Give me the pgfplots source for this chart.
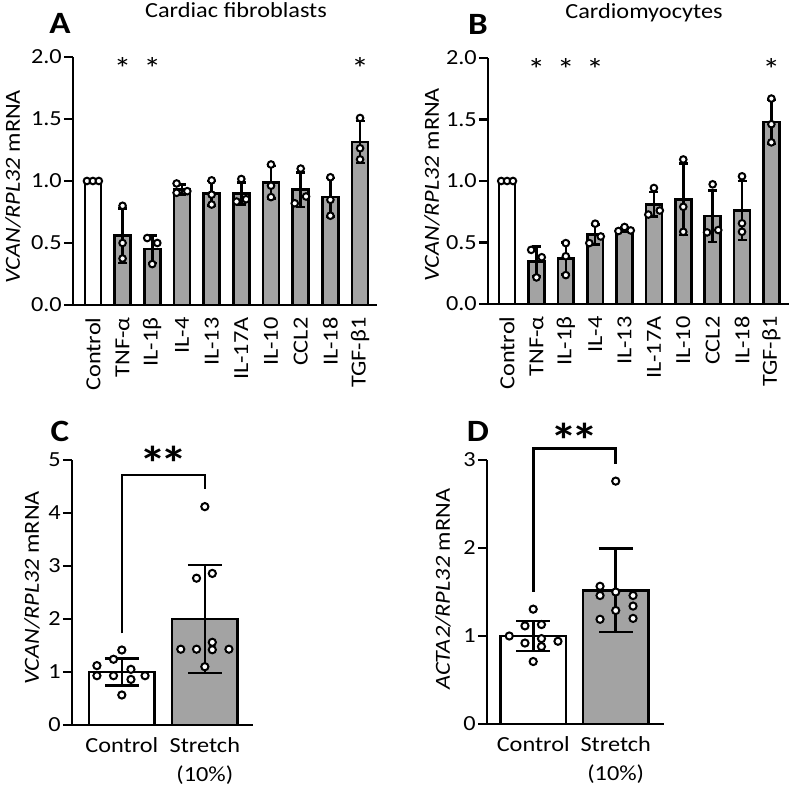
\documentclass[border=0pt]{standalone}
\usepackage{fontspec}
\setmainfont{Carlito}[FakeStretch=1.13]
\usepackage{pgfplots}
\pgfplotsset{compat=1.18}
\definecolor{bargray}{gray}{0.64}
\newcommand\fs{\fontsize{21.5pt}{29pt}\selectfont}
\pgfplotsset{
 panel/.style={
  scale only axis, axis lines=left, axis line style={-, line width=2.8pt, black},
  clip=false, tick align=outside, major tick length=9pt,
  ytick style={black, line width=2.8pt}, xtick style={draw=none},
  tick label style={font=\fs}, label style={font=\fs},
  yticklabel style={inner xsep=2pt},
  every axis y label/.style={rotate=90, anchor=center, font=\fs},
 },
 pts/.style={only marks, mark=*, mark size=#1, mark options={fill=white, draw=black, line width=2pt}},
 errp/.style={draw=none, forget plot, error bars/.cd, y dir=both, y explicit,
   error bar style={black, line width=2.6pt},
   error mark options={rotate=90, black, line width=2.6pt, mark size=#1}},
}
\tikzset{
 sstar/.style={anchor=base, font=\fontsize{31pt}{33pt}\selectfont},
 dstar/.style={anchor=base, font=\fontsize{48pt}{50pt}\selectfont\bfseries},
}
\begin{document}
\begin{tikzpicture}[font=\fs]
\path[use as bounding box] (0,0) rectangle (789pt,786pt);
% ---------- A ----------
\begin{axis}[panel, at={(73pt,481pt)}, anchor=south west, width=304pt, height=248pt,
  xmin=-0.67, xmax=9.57, ymin=0, ymax=2,
  ytick={0,0.5,1,1.5,2}, yticklabels={0.0,0.5,1.0,1.5,2.0},
  xtick={0,...,9}, xticklabels={Control,TNF-α,IL-1β,IL-4,IL-13,IL-17A,IL-10,CCL2,IL-18,TGF-β1},
  xticklabel style={rotate=90, anchor=east},
  ylabel={\textit{VCAN/RPL32} mRNA}, ylabel style={at={(axis description cs:-0.197,0.476)}}]
\addplot[ybar, bar width=0.54, bar shift=0pt, fill=white, draw=black, line width=2.6pt] coordinates {(0,1.0)};
\addplot[ybar, bar width=0.54, bar shift=0pt, fill=bargray, draw=black, line width=2.6pt] coordinates {
 (1,0.56) (2,0.45) (3,0.93) (4,0.90) (5,0.90) (6,0.99) (7,0.93) (8,0.87) (9,1.315)};
\addplot[errp=4.5pt] coordinates {
 (1,0.56) +- (0,0.22) (2,0.45) +- (0,0.11) (3,0.93) +- (0,0.04) (4,0.90) +- (0,0.10)
 (5,0.90) +- (0,0.09) (6,0.99) +- (0,0.13) (7,0.93) +- (0,0.14) (8,0.87) +- (0,0.155) (9,1.315) +- (0,0.17)};
\addplot[pts=3.3pt] coordinates {
 (-0.2,1) (0,1) (0.2,1)
 (1,0.80) (1,0.50) (1,0.375)
 (1.83,0.54) (2.17,0.50) (2,0.33)
 (2.82,0.98) (2.82,0.905) (3.18,0.918)
 (4,1.005) (4,0.89) (4,0.81)
 (5,1.016) (4.84,0.834) (5.16,0.853)
 (6,1.133) (6,0.962) (6,0.870)
 (7,1.10) (6.8,0.82) (7.18,0.875)
 (8,1.03) (8,0.848) (8,0.72)
 (9,1.508) (9,1.264) (9,1.174)};
\node[sstar] at (axis cs:1,1.82) {*};
\node[sstar] at (axis cs:2,1.82) {*};
\node[sstar] at (axis cs:9,1.82) {*};
\end{axis}
% ---------- B ----------
\begin{axis}[panel, at={(488pt,482pt)}, anchor=south west, width=301pt, height=246pt,
  xmin=-0.65, xmax=9.6, ymin=0, ymax=2,
  ytick={0,0.5,1,1.5,2}, yticklabels={0.0,0.5,1.0,1.5,2.0},
  xtick={0,...,9}, xticklabels={Control,TNF-α,IL-1β,IL-4,IL-13,IL-17A,IL-10,CCL2,IL-18,TGF-β1},
  xticklabel style={rotate=90, anchor=east},
  ylabel={\textit{VCAN/RPL32} mRNA}, ylabel style={at={(axis description cs:-0.186,0.484)}}]
\addplot[ybar, bar width=0.54, bar shift=0pt, fill=white, draw=black, line width=2.6pt] coordinates {(0,1.0)};
\addplot[ybar, bar width=0.54, bar shift=0pt, fill=bargray, draw=black, line width=2.6pt] coordinates {
 (1,0.345) (2,0.37) (3,0.565) (4,0.605) (5,0.81) (6,0.85) (7,0.715) (8,0.76) (9,1.48)};
\addplot[errp=4.5pt] coordinates {
 (1,0.345) +- (0,0.12) (2,0.37) +- (0,0.13) (3,0.565) +- (0,0.08) (4,0.605) +- (0,0.02)
 (5,0.81) +- (0,0.10) (6,0.85) +- (0,0.29) (7,0.715) +- (0,0.21) (8,0.76) +- (0,0.24) (9,1.48) +- (0,0.18)};
\addplot[pts=3.3pt] coordinates {
 (-0.2,1) (0,1) (0.2,1)
 (0.82,0.44) (1.18,0.38) (1,0.216)
 (2,0.495) (2,0.388) (2,0.235)
 (3,0.653) (2.8,0.495) (3.19,0.549)
 (3.79,0.593) (4,0.626) (4.21,0.598)
 (5,0.943) (4.81,0.727) (5.2,0.76)
 (6,1.175) (6,0.79) (6,0.587)
 (7,0.973) (6.81,0.582) (7.19,0.601)
 (8,1.038) (8,0.656) (8,0.587)
 (9,1.67) (9,1.462) (9,1.314)};
\node[sstar] at (axis cs:1,1.82) {*};
\node[sstar] at (axis cs:2,1.82) {*};
\node[sstar] at (axis cs:3,1.82) {*};
\node[sstar] at (axis cs:9,1.82) {*};
\end{axis}
% ---------- C ----------
\begin{axis}[panel, at={(72pt,61pt)}, anchor=south west, width=181pt, height=265pt,
  xmin=-0.6, xmax=1.58, ymin=0, ymax=5,
  ytick={0,...,5}, yticklabels={0,1,2,3,4,5},
  xtick={0,1}, xticklabels={Control,{Stretch\\(10\%)}},
  xticklabel style={align=center, anchor=north},
  ylabel={\textit{VCAN/RPL32} mRNA}, ylabel style={at={(axis description cs:-0.221,0.517)}}]
\addplot[ybar, bar width=0.79, bar shift=0pt, fill=white, draw=black, line width=2.6pt] coordinates {(0,1.0)};
\addplot[ybar, bar width=0.79, bar shift=0pt, fill=bargray, draw=black, line width=2.6pt] coordinates {(1,2.0)};
\addplot[errp=17pt] coordinates {(0,1.0) +- (0,0.25) (1,2.0) +- (0,1.02)};
\addplot[pts=3.6pt] coordinates {
 (-0.30,1.12) (-0.30,0.93) (-0.10,1.24) (-0.10,0.93) (0,1.415) (0,0.566) (0.11,1.05) (0.11,0.86) (0.28,0.93)};
\addplot[pts=3.6pt] coordinates {
 (1,4.12) (0.90,2.77) (1.09,2.86) (0.71,1.43) (0.90,1.43) (1.09,1.56) (1.09,1.42) (1.29,1.43) (1,1.10)};
\addplot[black, line width=2.6pt, forget plot] coordinates {(0,1.73) (0,4.72) (1,4.72) (1,4.45)};
\node[dstar] at (axis cs:0.5,4.62) {*\kern-6pt*};
\end{axis}
% ---------- D ----------
\begin{axis}[panel, at={(487pt,62pt)}, anchor=south west, width=177.4pt, height=264pt,
  xmin=-0.56, xmax=1.59, ymin=0, ymax=3,
  ytick={0,...,3}, yticklabels={0,1,2,3},
  xtick={0,1}, xticklabels={Control,{Stretch\\(10\%)}},
  xticklabel style={align=center, anchor=north},
  ylabel={\textit{ACTA2/RPL32} mRNA}, ylabel style={at={(axis description cs:-0.248,0.511)}}]
\addplot[ybar, bar width=0.79, bar shift=0pt, fill=white, draw=black, line width=2.6pt] coordinates {(0,1.0)};
\addplot[ybar, bar width=0.79, bar shift=0pt, fill=bargray, draw=black, line width=2.6pt] coordinates {(1,1.52)};
\addplot[errp=17pt] coordinates {(0,1.0) +- (0,0.17) (1,1.52) +- (0,0.475)};
\addplot[pts=3.6pt] coordinates {
 (0,1.305) (-0.10,1.115) (0.10,1.13) (-0.29,1.0) (0.30,0.94) (-0.10,0.92) (0.10,0.97) (0.10,0.88) (0,0.71)};
\addplot[pts=3.6pt] coordinates {
 (1,2.76) (0.81,1.565) (0.81,1.46) (1,1.50) (1.21,1.46) (1.21,1.34) (1,1.29) (0.81,1.19) (1.21,1.20)};
\addplot[black, line width=2.6pt, forget plot] coordinates {(0,1.50) (0,3.13) (1,3.13) (1,2.95)};
\node[dstar] at (axis cs:0.5,3.03) {*\kern-6pt*};
\end{axis}
% ---------- titles and panel letters ----------
\node[anchor=base] at (236pt,768pt) {Cardiac fibroblasts};
\node[anchor=base] at (644pt,767pt) {Cardiomyocytes};
\node[anchor=base, font=\fontsize{31pt}{34pt}\selectfont\bfseries] at (60pt,752pt) {A};
\node[anchor=base, font=\fontsize{31pt}{34pt}\selectfont\bfseries] at (478pt,751pt) {B};
\node[anchor=base, font=\fontsize{31pt}{34pt}\selectfont\bfseries] at (60pt,344pt) {C};
\node[anchor=base, font=\fontsize{31pt}{34pt}\selectfont\bfseries] at (478pt,344pt) {D};
\end{tikzpicture}
\end{document}
